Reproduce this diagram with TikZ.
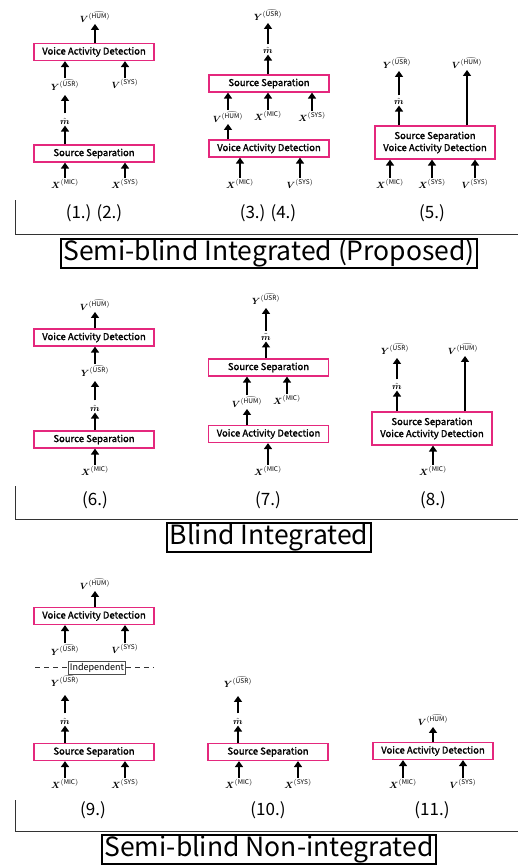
\documentclass[tikz,border=0pt]{standalone}
\usepackage{amsmath,bm}
\usepackage{fontspec}
\setmainfont{Noto Sans CJK JP}
\newfontfamily\boxfont{Noto Sans CJK JP}[FakeBold=1.6]
\usetikzlibrary{arrows.meta}
\definecolor{boxpink}{RGB}{228,40,125}
\newcommand{\lXmic}{$\boldsymbol{X}^{(\mathrm{MIC})}$}
\newcommand{\lXsys}{$\boldsymbol{X}^{(\mathrm{SYS})}$}
\newcommand{\lVsys}{$\boldsymbol{V}^{(\mathrm{SYS})}$}
\newcommand{\lVhum}{$\boldsymbol{V}^{\widehat{(\mathrm{HUM})}}$}
\newcommand{\lYusr}{$\boldsymbol{Y}^{\widehat{(\mathrm{USR})}}$}
\newcommand{\lmhat}{$\hat{\boldsymbol{m}}$}
\newcommand{\lmtil}{$\tilde{\boldsymbol{m}}$}
\begin{document}
\begin{tikzpicture}[x=1pt,y=-1pt,
 blk/.style={draw=boxpink, line width=1.2pt, minimum width=120pt, minimum height=17pt, inner sep=0pt, fill=white, font=\fontsize{9.5}{12}\boxfont, align=center},
 arr/.style={line width=2pt, -{Triangle[length=6pt,width=8pt]}},
 lab/.style={inner sep=1.2pt, font=\fontsize{9.3}{10}\selectfont},
 num/.style={font=\fontsize{17}{19}\selectfont},
 ttl/.style={draw=black, line width=1.6pt, inner xsep=2.5pt, inner ysep=1pt, text height=20pt, text depth=7pt, font=\fontsize{26.5}{30}\selectfont},
 sec/.style={line width=0.8pt, black!80},
]
\useasboundingbox (0,0) rectangle (518,867);

% ---------- (1.) (2.)
\node[lab] (a_vhum) at (95,17) {\lVhum};
\node[blk] (a_vad) at (94,52) {Voice Activity Detection};
\node[lab] (a_yusr) at (65,85) {\lYusr};
\node[lab] (a_vsys) at (125,84) {\lVsys};
\node[lab] (a_m) at (65,121) {\lmhat};
\node[blk] (a_ss) at (94,153.5) {Source Separation};
\node[lab] (a_xmic) at (65,184) {\lXmic};
\node[lab] (a_xsys) at (125,184) {\lXsys};
\node[num] (a_n) at (94,213) {(1.) (2.)};
\draw[arr] (a_xmic.north) -- (a_xmic.north |- a_ss.south);
\draw[arr] (a_xsys.north) -- (a_xsys.north |- a_ss.south);
\draw[arr] (a_ss.north -| a_m) -- (a_m.south);
\draw[arr, shorten <=3pt, shorten >=3pt] (a_m.north) -- (a_yusr.south);
\draw[arr] (a_yusr.north) -- (a_yusr.north |- a_vad.south);
\draw[arr] (a_vsys.north) -- (a_vsys.north |- a_vad.south);
\draw[arr] (a_vad.north -| a_vhum) -- (a_vhum.south);

% ---------- (3.) (4.)
\node[lab] (b_yusr) at (268,15) {\lYusr};
\node[lab] (b_m) at (268,50) {\lmhat};
\node[blk] (b_ss) at (269,83.5) {Source Separation};
\node[lab] (b_vhum) at (228,117) {\lVhum};
\node[lab] (b_xmic) at (268,116) {\lXmic};
\node[lab] (b_xsys) at (312,117) {\lXsys};
\node[blk] (b_vad) at (269,148.5) {Voice Activity Detection};
\node[lab] (b_xmic2) at (240,184) {\lXmic};
\node[lab] (b_vsys) at (300,184) {\lVsys};
\node[num] (b_n) at (268,213) {(3.) (4.)};
\draw[arr] (b_xmic2.north) -- (b_xmic2.north |- b_vad.south);
\draw[arr] (b_vsys.north) -- (b_vsys.north |- b_vad.south);
\draw[arr] (b_vad.north -| b_vhum) -- (b_vhum.south);
\draw[arr] (b_vhum.north) -- (b_vhum.north |- b_ss.south);
\draw[arr] (b_xmic.north) -- (b_xmic.north |- b_ss.south);
\draw[arr] (b_xsys.north) -- (b_xsys.north |- b_ss.south);
\draw[arr] (b_ss.north -| b_m) -- (b_m.south);
\draw[arr, shorten <=1pt, shorten >=1pt] (b_m.north) -- (b_yusr.south);

% ---------- (5.)
\node[lab] (c_yusr) at (397,63) {\lYusr};
\node[lab] (c_vhum) at (467,63) {\lVhum};
\node[lab] (c_m) at (399,101) {\lmhat};
\node[blk, minimum height=33pt] (c_box) at (435,142.5) {Source Separation\\Voice Activity Detection};
\node[lab] (c_xmic) at (390,184) {\lXmic};
\node[lab] (c_xsys) at (432,184) {\lXsys};
\node[lab] (c_vsys) at (475,184) {\lVsys};
\node[num] (c_n) at (432,213) {(5.)};
\draw[arr] (c_xmic.north) -- (c_xmic.north |- c_box.south);
\draw[arr] (c_xsys.north) -- (c_xsys.north |- c_box.south);
\draw[arr] (c_vsys.north) -- (c_vsys.north |- c_box.south);
\draw[arr] (c_box.north -| c_m) -- (c_m.south);
\draw[arr, shorten <=1pt, shorten >=1pt] (c_m.north) -- (c_m.north |- c_yusr.south);
\draw[arr] (c_box.north -| c_vhum) -- (c_vhum.south);

% ---------- section 1
\coordinate (s1a) at (15,200);
\coordinate (s1b) at (15,234);
\coordinate (s1c) at (518,234);
\draw[sec] (s1a) -- (s1b) -- (s1c);
\node[ttl] (t1) at (269,253.5) {Semi-blind Integrated (Proposed)};

% ---------- (6.)
\node[lab] (d_vhum) at (95,305) {\lVhum};
\node[blk] (d_vad) at (94,337.5) {Voice Activity Detection};
\node[lab] (d_yusr) at (95,371) {\lYusr};
\node[lab] (d_m) at (95,408) {\lmhat};
\node[blk] (d_ss) at (94,439.5) {Source Separation};
\node[lab] (d_xmic) at (95,471) {\lXmic};
\node[num] (d_n) at (95,500) {(6.)};
\draw[arr] (d_xmic.north) -- (d_xmic.north |- d_ss.south);
\draw[arr] (d_ss.north -| d_m) -- (d_m.south);
\draw[arr, shorten <=3pt, shorten >=3pt] (d_m.north) -- (d_m.north |- d_yusr.south);
\draw[arr] (d_yusr.north -| d_m) -- (d_m.north |- d_vad.south);
\draw[arr] (d_vad.north -| d_vhum) -- (d_vhum.south);

% ---------- (7.)
\node[lab] (e_yusr) at (266,299) {\lYusr};
\node[lab] (e_m) at (266,337) {\lmtil};
\node[blk] (e_ss) at (268.5,367.5) {Source Separation};
\node[lab] (e_vhum) at (247,402) {\lVhum};
\node[lab] (e_xmic) at (287,400) {\lXmic};
\node[blk] (e_vad) at (268.5,434) {Voice Activity Detection};
\node[lab] (e_xmic2) at (268,471) {\lXmic};
\node[num] (e_n) at (268,500) {(7.)};
\draw[arr] (e_xmic2.north) -- (e_xmic2.north |- e_vad.south);
\draw[arr] (e_vad.north -| e_vhum) -- (e_vhum.south);
\draw[arr] (e_vhum.north) -- (e_vhum.north |- e_ss.south);
\draw[arr] (e_xmic.north) -- (e_xmic.north |- e_ss.south);
\draw[arr] (e_ss.north -| e_m) -- (e_m.south);
\draw[arr, shorten <=2pt, shorten >=2pt] (e_m.north) -- (e_yusr.south);

% ---------- (8.)
\node[lab] (f_yusr) at (395,349) {\lYusr};
\node[lab] (f_vhum) at (463,349) {\lVhum};
\node[lab] (f_m) at (397,386) {\lmhat};
\node[blk, minimum height=33pt] (f_box) at (432,428.5) {Source Separation\\Voice Activity Detection};
\node[lab] (f_xmic) at (433,471) {\lXmic};
\node[num] (f_n) at (433,500) {(8.)};
\coordinate (f_lx) at (465,349);
\draw[arr] (f_xmic.north) -- (f_xmic.north |- f_box.south);
\draw[arr] (f_box.north -| f_m) -- (f_m.south);
\draw[arr, shorten <=2pt, shorten >=2pt] (f_m.north) -- (f_m.north |- f_yusr.south);
\draw[arr] (f_box.north -| f_lx) -- (f_lx |- f_vhum.south);

% ---------- section 2
\coordinate (s2a) at (15,486);
\coordinate (s2b) at (15,519);
\coordinate (s2c) at (518,519);
\draw[sec] (s2a) -- (s2b) -- (s2c);
\node[ttl] (t2) at (269,537.5) {Blind Integrated};

% ---------- (9.)
\node[lab] (g_vhum) at (95,584) {\lVhum};
\node[blk] (g_vad) at (94,616) {Voice Activity Detection};
\node[lab] (g_yusr) at (65,650) {\lYusr};
\node[lab] (g_vsys) at (125,649) {\lVsys};
\node[draw=black!70, line width=0.6pt, inner sep=1.5pt, minimum width=56pt, minimum height=13pt, font=\fontsize{9}{10}\selectfont] (g_ind) at (97,667.5) {Independent};
\coordinate (g_dl) at (35,667.5);
\coordinate (g_dr) at (153,667.5);
\draw[black!80, line width=0.8pt, dash pattern=on 5pt off 4pt] (g_dl) -- (g_ind.west);
\draw[black!80, line width=0.8pt, dash pattern=on 5pt off 4pt] (g_ind.east) -- (g_dr);
\node[lab] (g_yusr2) at (65,681) {\lYusr};
\node[lab] (g_m) at (65,721) {\lmhat};
\node[blk] (g_ss) at (94,752) {Source Separation};
\node[lab] (g_xmic) at (65,784) {\lXmic};
\node[lab] (g_xsys) at (125,784) {\lXsys};
\node[num] (g_n) at (93,810) {(9.)};
\draw[arr] (g_xmic.north) -- (g_xmic.north |- g_ss.south);
\draw[arr] (g_xsys.north) -- (g_xsys.north |- g_ss.south);
\draw[arr] (g_ss.north -| g_m) -- (g_m.south);
\draw[arr, shorten <=3pt, shorten >=7pt] (g_m.north) -- (g_yusr2.south);
\draw[arr] (g_yusr.north) -- (g_yusr.north |- g_vad.south);
\draw[arr] (g_vsys.north) -- (g_vsys.north |- g_vad.south);
\draw[arr] (g_vad.north -| g_vhum) -- (g_vhum.south);

% ---------- (10.)
\node[lab] (h_yusr) at (238,682) {\lYusr};
\node[lab] (h_m) at (238,721) {\lmhat};
\node[blk] (h_ss) at (268,752) {Source Separation};
\node[lab] (h_xmic) at (239,784) {\lXmic};
\node[lab] (h_xsys) at (298,784) {\lXsys};
\node[num] (h_n) at (268,810) {(10.)};
\draw[arr] (h_xmic.north) -- (h_xmic.north |- h_ss.south);
\draw[arr] (h_xsys.north) -- (h_xsys.north |- h_ss.south);
\draw[arr] (h_ss.north -| h_m) -- (h_m.south);
\draw[arr, shorten <=3pt, shorten >=7pt] (h_m.north) -- (h_yusr.south);

% ---------- (11.)
\node[lab] (i_vhum) at (433,720) {\lVhum};
\node[blk] (i_vad) at (433,751) {Voice Activity Detection};
\node[lab] (i_xmic) at (403,784) {\lXmic};
\node[lab] (i_vsys) at (463,784) {\lVsys};
\node[num] (i_n) at (432,810) {(11.)};
\draw[arr] (i_xmic.north) -- (i_xmic.north |- i_vad.south);
\draw[arr] (i_vsys.north) -- (i_vsys.north |- i_vad.south);
\draw[arr] (i_vad.north -| i_vhum) -- (i_vhum.south);

% ---------- section 3
\coordinate (s3a) at (15,800);
\coordinate (s3b) at (15,831);
\coordinate (s3c) at (518,831);
\draw[sec] (s3a) -- (s3b) -- (s3c);
\node[ttl] (t3) at (269,849.5) {Semi-blind Non-integrated};
\end{tikzpicture}
\end{document}
